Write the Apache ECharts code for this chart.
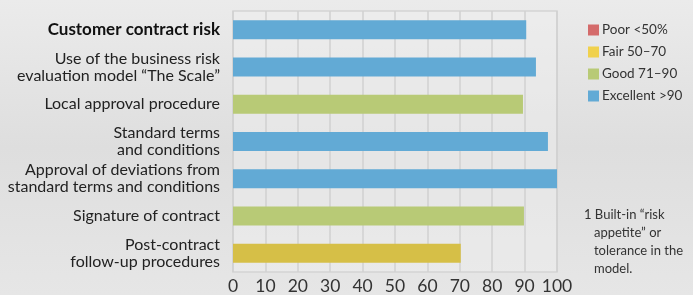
<!DOCTYPE html>
<html>
<head>
<meta charset="utf-8">
<script src="https://cdn.jsdelivr.net/npm/echarts@6/dist/echarts.min.js"></script>
<style>
  html, body { margin: 0; padding: 0; }
  #chart { width: 693px; height: 295px; }
</style>
</head>
<body>
<div id="chart"></div>
<script>
// categories top to bottom
const categories = [
  'Customer contract risk',
  'Use of the business risk\nevaluation model \u201cThe Scale\u201d',
  'Local approval procedure',
  'Standard terms\nand conditions',
  'Approval of deviations from\nstandard terms and conditions',
  'Signature of contract',
  'Post-contract\nfollow-up procedures'
]
const scores = [90.5, 93.5, 89.5, 97.2, 100, 89.8, 70.3]
const ratings = ['Excellent >90', 'Excellent >90', 'Good 71-90', 'Excellent >90', 'Excellent >90', 'Good 71-90', 'Fair 50-70']
const legendNames = ['Poor <50%', 'Fair 50\u201370', 'Good 71\u201390', 'Excellent >90']
const xTicks = [0, 10, 20, 30, 40, 50, 60, 70, 80, 90, 100]

const barColors = {
  'Excellent >90': '#62aad5',
  'Good 71-90': '#b8ca76',
  'Fair 50-70': '#d6bf47'
}
const legendColors = ['#d46b6b', '#f0d14d', '#b8ca76', '#62aad5']

const chart = echarts.init(document.getElementById('chart'))

const series = [
  {
    name: 'score',
    type: 'bar',
    stack: 'all',
    barWidth: 19,
    data: scores.map((v, i) => ({ value: v, itemStyle: { color: barColors[ratings[i]] } })),
    silent: true
  }
]
// legend-only series (empty)
legendNames.forEach((n, i) => {
  series.push({ name: n, type: 'bar', stack: 'all', data: [], itemStyle: { color: legendColors[i] } })
})

chart.setOption({
  backgroundColor: {
    type: 'linear', x: 0, y: 0, x2: 0, y2: 1,
    colorStops: [
      { offset: 0, color: '#ebebeb' },
      { offset: 0.5, color: '#dedede' },
      { offset: 1, color: '#e6e6e6' }
    ]
  },
  animation: false,
  textStyle: { fontFamily: 'Lato' },
  grid: {
    left: 233, right: 136, top: 11, bottom: 23,
    show: true,
    backgroundColor: 'rgba(240,240,240,0.45)',
    borderColor: '#d3d3d3',
    borderWidth: 1.5
  },
  legend: {
    orient: 'vertical',
    left: 583, top: 18,
    itemWidth: 11, itemHeight: 11,
    itemGap: 8,
    icon: 'rect',
    data: legendNames,
    textStyle: { fontSize: 13.5, color: '#333', padding: [0, 0, 0, -2] }
  },
  xAxis: {
    type: 'value',
    min: 0, max: 100, interval: 10,
    axisLine: { show: false },
    axisTick: { show: false },
    splitLine: { lineStyle: { color: '#d0d0d0', width: 1.5 } },
    axisLabel: {
      fontSize: 17.5, color: '#333', margin: 5,
      formatter: v => xTicks.includes(v) ? String(v) : ''
    }
  },
  yAxis: {
    type: 'category',
    inverse: true,
    data: categories,
    axisLine: { show: false },
    axisTick: { show: false },
    axisLabel: {
      fontSize: 16, color: '#222', margin: 13, lineHeight: 17,
      formatter: (v, i) => i === 0 ? '{b|' + v + '}' : v,
      rich: { b: { fontWeight: 'bold', fontSize: 17, color: '#111' } }
    }
  },
  graphic: [{
    type: 'text',
    left: 584, top: 206,
    style: {
      text: '1 Built-in \u201crisk\n   appetite\u201d or\n   tolerance in the\n   model.',
      fontSize: 13, lineHeight: 18, fill: '#333', fontFamily: 'Lato'
    }
  }],
  series
})
</script>
</body>
</html>
